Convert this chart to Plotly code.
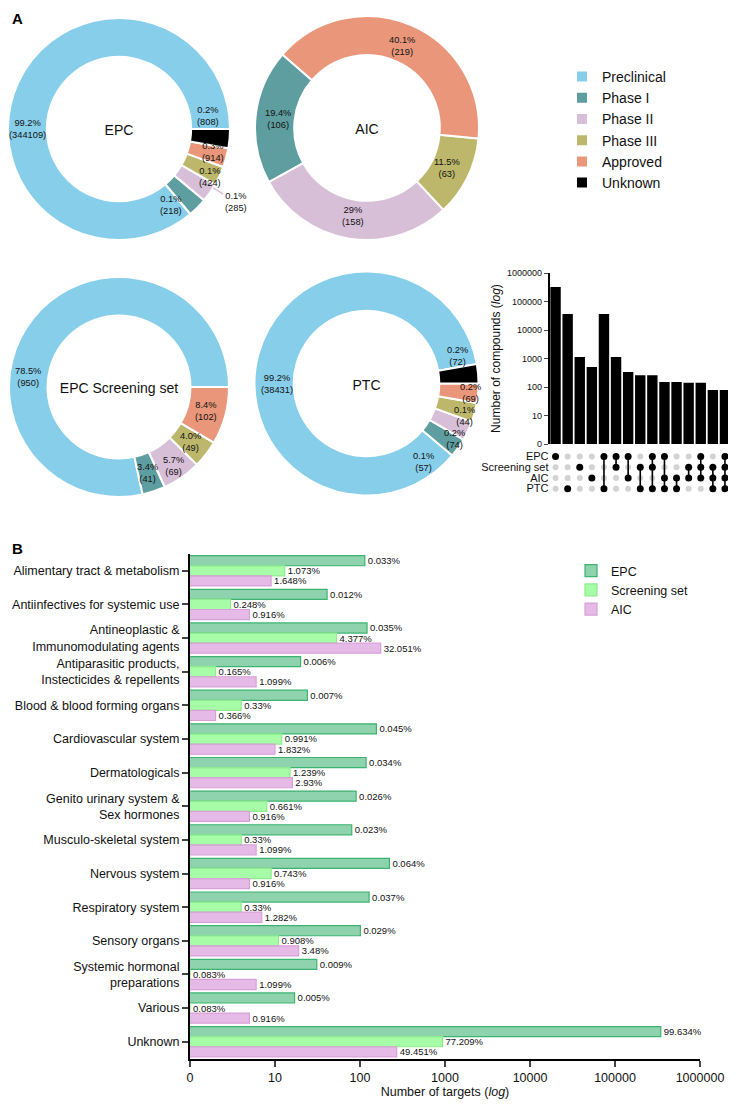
import math
import plotly.graph_objects as go

W, H = 736, 1104
OFF = 8  # page body margin offset of the figure in the browser
FONT = "Liberation Sans, Arial, Helvetica, sans-serif"

# ---------------- Panel A data ----------------
stages = ["Preclinical", "Phase I", "Phase II", "Phase III", "Approved", "Unknown"]
stage_colors = ["#87CEEB", "#5F9EA0", "#D8BFD8", "#BDB76B", "#E9967A", "#000000"]

epc_counts = [344109, 218, 285, 424, 914, 808]
epc_pct = ["99.2%", "0.1%", "0.1%", "0.1%", "0.3%", "0.2%"]
aic_counts = [0, 106, 158, 63, 219, 0]
aic_pct = ["", "19.4%", "29%", "11.5%", "40.1%", ""]
scr_counts = [950, 41, 69, 49, 102, 0]
scr_pct = ["78.5%", "3.4%", "5.7%", "4.0%", "8.4%", ""]
ptc_counts = [38431, 57, 74, 44, 69, 72]
ptc_pct = ["99.2%", "0.1%", "0.2%", "0.1%", "0.2%", "0.2%"]

# UpSet data
upset_sets = ["EPC", "Screening set", "AIC", "PTC"]
upset_combos = [["EPC"], ["PTC"], ["Screening set"], ["AIC"], ["EPC", "PTC"],
                ["EPC", "Screening set"], ["EPC", "AIC"], ["Screening set", "PTC"],
                ["EPC", "Screening set", "PTC"], ["EPC", "AIC", "PTC"], ["AIC", "PTC"],
                ["Screening set", "AIC"], ["EPC", "Screening set", "AIC"],
                ["Screening set", "AIC", "PTC"], ["EPC", "Screening set", "AIC", "PTC"]]
upset_counts = [320000, 36500, 1130, 505, 36500, 1130, 336, 256, 256, 150, 150, 142, 142, 79, 79]

# ---------------- Panel B data ----------------
atc = ["Alimentary tract & metabolism", "Antiinfectives for systemic use",
       "Antineoplastic &<br>Immunomodulating agents",
       "Antiparasitic products,<br>Instecticides & repellents",
       "Blood & blood forming organs", "Cardiovascular system", "Dermatologicals",
       "Genito urinary system &<br>Sex hormones", "Musculo-skeletal system",
       "Nervous system", "Respiratory system", "Sensory organs",
       "Systemic hormonal<br>preparations", "Various", "Unknown"]
epc_targets = [114, 41, 121, 20, 24, 156, 118, 90, 80, 222, 128, 101, 31, 17, 345489]
epc_target_pct = ["0.033%", "0.012%", "0.035%", "0.006%", "0.007%", "0.045%", "0.034%", "0.026%",
                  "0.023%", "0.064%", "0.037%", "0.029%", "0.009%", "0.005%", "99.634%"]
scr_targets = [13, 3, 53, 2, 4, 12, 15, 8, 4, 9, 4, 11, 1, 1, 935]
scr_target_pct = ["1.073%", "0.248%", "4.377%", "0.165%", "0.33%", "0.991%", "1.239%", "0.661%",
                  "0.33%", "0.743%", "0.33%", "0.908%", "0.083%", "0.083%", "77.209%"]
aic_targets = [9, 5, 175, 6, 2, 10, 16, 5, 6, 5, 7, 19, 6, 5, 270]
aic_target_pct = ["1.648%", "0.916%", "32.051%", "1.099%", "0.366%", "1.832%", "2.93%", "0.916%",
                  "1.099%", "0.916%", "1.282%", "3.48%", "1.099%", "0.916%", "49.451%"]

# ---------------- styles ----------------
MIN_SHARE = 0.032   # minimum visible wedge share for tiny slices
HOLE = 0.65
LABEL_SIZE = 9.3

fig = go.Figure()
annotations = []


def PX(x):
    return min(max((x - OFF) / W, 0.0), 1.0)


def PY(y):
    return min(max(1 - (y - OFF) / H, 0.0), 1.0)


def donut(title, counts, pcts, cx, cy, R, chain_end, lab):
    R = min(R, cx - OFF, cy - OFF)
    idx = [i for i, c in enumerate(counts) if c > 0]
    vals = [counts[i] for i in idx]
    total = sum(vals)
    disp = [max(v, MIN_SHARE * total) for v in vals]
    dtot = sum(disp)
    angs = [360.0 * d / dtot for d in disp]
    S = sum(angs[1:])
    start = chain_end - S
    rot = 90 - start
    rot = ((rot + 180) % 360) - 180
    ranges = [(start - angs[0], start)]
    a = start
    for g in angs[1:]:
        ranges.append((a, a + g))
        a += g
    fig.add_trace(go.Pie(
        labels=[stages[i] for i in idx], values=disp, sort=False,
        direction="counterclockwise", rotation=rot, hole=HOLE,
        marker=dict(colors=[stage_colors[i] for i in idx], line=dict(color="white", width=2)),
        textinfo="none", hoverinfo="label",
        domain=dict(x=[PX(cx - R), PX(cx + R)], y=[PY(cy + R), PY(cy - R)]),
        title=dict(text=title, position="middle center", font=dict(size=14, color="#111", family=FONT)),
        legend="legend",
    ))
    for k, i in enumerate(idx):
        st = lab.get(stages[i], {})
        mid = (ranges[k][0] + ranges[k][1]) / 2
        ang = st.get("ang", mid + st.get("dang", 0))
        rf = st.get("rf", 0.82)
        t = math.radians(ang)
        lx, ly = cx + rf * R * math.cos(t), cy - rf * R * math.sin(t)
        txt = f"{pcts[i]}<br>({counts[i]})"
        if st.get("arrow"):
            hx, hy = cx + R * math.cos(t), cy - R * math.sin(t)
            annotations.append(dict(x=PX(hx), y=PY(hy), xref="paper", yref="paper", text=txt,
                                    showarrow=True, arrowhead=0, arrowwidth=1.5,
                                    arrowcolor=stage_colors[i], ax=lx - hx, ay=ly - hy,
                                    font=dict(size=LABEL_SIZE, color="#111", family=FONT)))
        else:
            annotations.append(dict(x=PX(lx), y=PY(ly), xref="paper", yref="paper", text=txt,
                                    showarrow=False, xanchor="center", yanchor="middle",
                                    font=dict(size=LABEL_SIZE, color="#111", family=FONT)))


donut("EPC", epc_counts, epc_pct, 119, 129, 112, 0,
      {"Preclinical": {"ang": 180, "rf": 0.82}, "Phase I": {"dang": -11, "rf": 0.83},
       "Phase II": {"dang": 3, "rf": 1.24, "arrow": True}, "Phase III": {"dang": -3, "rf": 0.93},
       "Approved": {"dang": 1, "rf": 0.87}, "Unknown": {"dang": 13, "rf": 0.81}})
donut("AIC", aic_counts, aic_pct, 367, 128, 112, 139, {"Phase I": {"rf": 0.8}, "Phase II": {"rf": 0.8},
                                                       "Phase III": {"rf": 0.8}, "Approved": {"rf": 0.8}})
donut("EPC Screening set", scr_counts, scr_pct, 119, 387, 110, 0,
      {"Preclinical": {"ang": 174, "rf": 0.83}, "Phase II": {"rf": 0.87}})
donut("PTC", ptc_counts, ptc_pct, 366.5, 383.5, 112, 10,
      {"Preclinical": {"ang": 180, "rf": 0.8}, "Unknown": {"dang": 12, "rf": 0.85},
       "Approved": {"dang": -0.5, "rf": 0.93}, "Phase III": {"dang": -3.5, "rf": 0.92},
       "Phase II": {"dang": -7, "rf": 0.93}, "Phase I": {"dang": -19, "rf": 0.87}})

# ---------------- UpSet ----------------
cols = list(range(len(upset_counts)))
fig.add_trace(go.Bar(x=cols, y=upset_counts, marker=dict(color="black", line=dict(width=0)),
                     width=0.86, xaxis="x2", yaxis="y2", showlegend=False, hoverinfo="y"))
gx, gy, bx, by, lx, ly = [], [], [], [], [], []
for c, combo in enumerate(upset_combos):
    rows = [upset_sets.index(s) for s in combo]
    for r in range(len(upset_sets)):
        if r in rows:
            bx.append(c); by.append(r)
        else:
            gx.append(c); gy.append(r)
    if len(rows) > 1:
        lx += [c, c, None]
        ly += [min(rows), max(rows), None]
fig.add_trace(go.Scatter(x=gx, y=gy, mode="markers", marker=dict(color="#D3D3D3", size=6),
                         xaxis="x3", yaxis="y3", showlegend=False, hoverinfo="skip"))
fig.add_trace(go.Scatter(x=lx, y=ly, mode="lines", line=dict(color="black", width=1.6),
                         xaxis="x3", yaxis="y3", showlegend=False, hoverinfo="skip"))
fig.add_trace(go.Scatter(x=bx, y=by, mode="markers", marker=dict(color="black", size=7),
                         xaxis="x3", yaxis="y3", showlegend=False, hoverinfo="skip"))

# ---------------- Panel B bars ----------------
bar_specs = [
    ("EPC", epc_targets, epc_target_pct, "rgba(60,179,113,0.58)", "#3CB371"),
    ("Screening set", scr_targets, scr_target_pct, "rgba(152,251,152,0.85)", "#8EEB8E"),
    ("AIC", aic_targets, aic_target_pct, "rgba(221,160,221,0.72)", "#D8A0D8"),
]
for name, vals, pct, fill, edge in bar_specs:
    fig.add_trace(go.Bar(
        y=atc, x=vals, name=name, orientation="h", text=pct, textposition="outside",
        textfont=dict(size=9.5, color="#111", family=FONT), constraintext="none", cliponaxis=False,
        marker=dict(color=fill, line=dict(color=edge, width=1.2)),
        xaxis="x", yaxis="y", legend="legend2",
    ))

log_ticks = [1, 10, 100, 1000, 10000, 100000, 1000000]
log_text = ["0", "10", "100", "1000", "10000", "100000", "1000000"]

annotations.append(dict(x=PX(10), y=PY(8), xref="paper", yref="paper", text="<b>A</b>",
                        showarrow=False, xanchor="left", yanchor="top",
                        font=dict(size=15, color="black", family=FONT)))
annotations.append(dict(x=PX(10), y=PY(548), xref="paper", yref="paper", text="<b>B</b>",
                        showarrow=False, xanchor="left", yanchor="middle",
                        font=dict(size=15, color="black", family=FONT)))

fig.update_layout(
    width=W, height=H, margin=dict(l=0, r=0, t=0, b=0, pad=0, autoexpand=False),
    paper_bgcolor="white", plot_bgcolor="white",
    font=dict(family=FONT, color="#111"),
    barmode="group", bargap=0.1, bargroupgap=0.0,
    annotations=annotations,
    legend=dict(x=PX(562), y=PY(61), xanchor="left", yanchor="top",
                font=dict(size=14, family=FONT, color="#111"), bgcolor="rgba(0,0,0,0)"),
    legend2=dict(x=PX(571), y=PY(556), xanchor="left", yanchor="top",
                 font=dict(size=12.5, family=FONT, color="#111"), bgcolor="rgba(0,0,0,0)"),
    xaxis=dict(domain=[PX(190), PX(700)], anchor="y", type="log", range=[0, 6],
               tickvals=log_ticks, ticktext=log_text, ticks="outside", ticklen=6, tickwidth=1.5,
               showline=True, linecolor="black", linewidth=2, showgrid=False, zeroline=False,
               tickfont=dict(size=12.5), title=dict(text="Number of targets (<i>log</i>)",
                                                    font=dict(size=12.5), standoff=4)),
    yaxis=dict(domain=[PY(1058.5), PY(554)], anchor="x", type="category",
               autorange="reversed", ticks="outside", ticklen=6, tickwidth=1.5,
               showline=True, linecolor="black", linewidth=2, showgrid=False,
               tickfont=dict(size=12.5)),
    xaxis2=dict(domain=[PX(549.5), PX(731)], anchor="y2", range=[-0.5, 14.5],
                showticklabels=False, showline=False, showgrid=False, zeroline=False, ticks=""),
    yaxis2=dict(domain=[PY(444), PY(273)], anchor="x2", type="log", range=[0, 6],
                tickvals=log_ticks, ticktext=log_text, ticks="outside", ticklen=4, tickwidth=1.2,
                showline=True, linecolor="black", linewidth=1.5, showgrid=False, zeroline=False,
                tickfont=dict(size=9),
                title=dict(text="Number of compounds (<i>log</i>)", font=dict(size=12), standoff=4)),
    xaxis3=dict(domain=[PX(549.5), PX(731)], anchor="y3", range=[-0.5, 14.5], matches="x2",
                showticklabels=False, showline=False, showgrid=False, zeroline=False, ticks=""),
    yaxis3=dict(domain=[PY(494), PY(451)], anchor="x3", range=[3.5, -0.5],
                tickvals=[0, 1, 2, 3], ticktext=upset_sets, ticks="", showline=False,
                showgrid=False, zeroline=False, tickfont=dict(size=11)),
)

fig.write_html("out.html")
